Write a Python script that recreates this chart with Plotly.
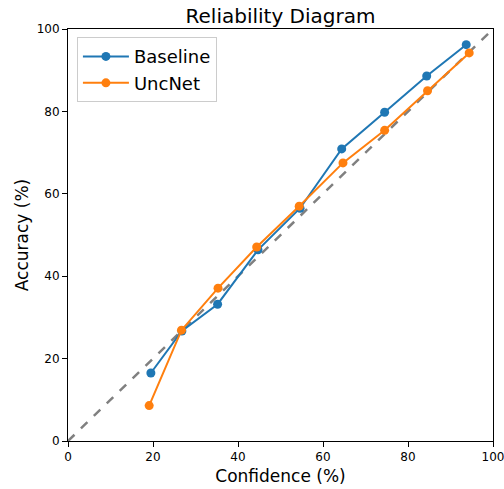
import plotly.graph_objects as go

# Calibration bins: mean confidence vs. observed accuracy (%)
baseline_conf = [19.5, 26.8, 35.2, 44.7, 54.6, 64.4, 74.5, 84.4, 93.7]
baseline_acc = [16.5, 26.7, 33.2, 46.4, 56.5, 70.9, 79.8, 88.6, 96.2]

uncnet_conf = [19.1, 26.7, 35.3, 44.4, 54.4, 64.7, 74.5, 84.6, 94.4]
uncnet_acc = [8.6, 26.9, 37.1, 47.1, 57.0, 67.5, 75.4, 85.0, 94.2]

diag = [0, 100]
ticks = [0, 20, 40, 60, 80, 100]

FONT = "DejaVu Sans"

fig = go.Figure()
fig.add_trace(go.Scatter(
    x=diag, y=diag, mode="lines", showlegend=False,
    line=dict(color="#808080", width=2.5, dash="dash"), hoverinfo="skip",
))
fig.add_trace(go.Scatter(
    x=baseline_conf, y=baseline_acc, mode="lines+markers", name="Baseline",
    line=dict(color="#1f77b4", width=2), marker=dict(color="#1f77b4", size=9),
))
fig.add_trace(go.Scatter(
    x=uncnet_conf, y=uncnet_acc, mode="lines+markers", name="UncNet",
    line=dict(color="#ff7f0e", width=2), marker=dict(color="#ff7f0e", size=9),
))

axis_common = dict(
    range=[0, 100], tickvals=ticks, ticks="outside", ticklen=5, tickwidth=1,
    tickcolor="black", showline=True, linecolor="black", linewidth=1,
    mirror=True, showgrid=False, zeroline=False, automargin=False,
    ticklabeloverflow="allow",
    tickfont=dict(family=FONT, size=12, color="black"),
)

fig.update_layout(
    width=504, height=489,
    margin=dict(l=68, r=11, t=29, b=48),
    paper_bgcolor="white", plot_bgcolor="white",
    font=dict(family=FONT, color="black"),
    title=dict(text="Reliability Diagram", x=0.5, xanchor="center",
               xref="paper", y=1, yref="paper", yanchor="bottom",
               pad=dict(b=6), font=dict(family=FONT, size=20, color="black")),
    xaxis=dict(axis_common, title=dict(text="Confidence (%)", standoff=6,
                                       font=dict(family=FONT, size=17))),
    yaxis=dict(axis_common, title=dict(text="Accuracy (%)", standoff=3,
                                       font=dict(family=FONT, size=17))),
    legend=dict(x=0.021, y=0.98, xanchor="left", yanchor="top",
                bgcolor="rgba(255,255,255,0.8)", bordercolor="#cccccc",
                borderwidth=1, font=dict(family=FONT, size=18),
                itemwidth=46, tracegroupgap=2),
)

fig.write_html("out.html")
